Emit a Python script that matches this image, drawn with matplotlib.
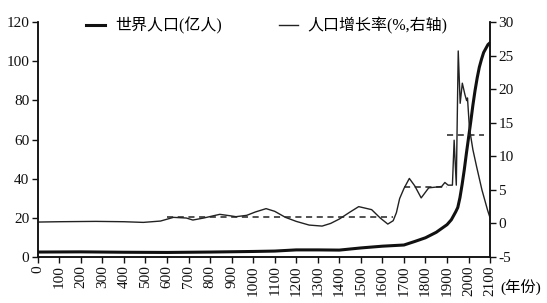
import numpy as np
import matplotlib.pyplot as plt

plt.rcParams['font.family'] = ['Liberation Serif', 'Noto Sans CJK SC']
plt.rcParams['axes.unicode_minus'] = False

# 世界人口 (亿人)
pop_years = [0, 200, 400, 600, 800, 1000, 1100, 1200, 1300, 1400, 1500, 1600, 1700, 1750,
             1800, 1850, 1900, 1920, 1940, 1950, 1960, 1970, 1980, 1990, 2000, 2010, 2020,
             2030, 2040, 2050, 2060, 2070, 2080, 2090, 2100]
pop = [2.5, 2.6, 2.4, 2.3, 2.5, 2.8, 3.0, 3.6, 3.6, 3.5, 4.6, 5.5, 6.1, 7.9,
       9.8, 12.6, 16.5, 19.0, 23.0, 25.3, 30.3, 37.0, 44.5, 53.0, 61.0, 69.0, 77.5,
       85.0, 91.5, 97.0, 101.0, 104.5, 106.5, 108.5, 109.5]

# 人口增长率 (右轴)
rate_years = [0, 100, 270, 400, 490, 570, 630, 690, 720, 770, 845, 890, 920, 970, 1010,
              1060, 1100, 1150, 1200, 1260, 1320, 1360, 1400, 1450, 1490, 1550, 1590, 1625,
              1650, 1665, 1680, 1700, 1725, 1750, 1780, 1815, 1875, 1890, 1905, 1925, 1933,
              1943, 1952, 1961, 1971, 1983, 1991, 1995, 2004, 2020, 2037, 2062, 2088, 2100]
rate = [0.2, 0.25, 0.3, 0.25, 0.15, 0.35, 0.9, 0.8, 0.5, 0.8, 1.35, 1.15, 1.0, 1.2, 1.7,
        2.2, 1.8, 0.9, 0.3, -0.25, -0.4, 0.0, 0.65, 1.7, 2.5, 2.05, 0.8, -0.1,
        0.4, 1.6, 3.7, 5.2, 6.7, 5.6, 3.8, 5.3, 5.5, 6.1, 5.7, 5.7, 12.4,
        5.7, 25.7, 17.9, 20.9, 19.2, 18.3, 18.7, 14.2, 11.0, 8.5, 5.0, 2.0, 0.8]

# 分段平均 (虚线)
avg_start = [600, 1700, 1900]
avg_end = [1650, 1900, 2070]
avg_val = [0.9, 5.4, 13.2]

xticks = np.arange(0, 2101, 100)

fig = plt.figure(figsize=(5.47, 3.03), dpi=100)
ax = fig.add_axes([0.069, 0.152, 0.827, 0.775])
ax2 = ax.twinx()

ax.plot(pop_years, pop, color='#111111', lw=2.2, label='世界人口(亿人)')
ax2.plot(rate_years, rate, color='#222222', lw=1.0, label='人口增长率(%,右轴)')
ax2.hlines(avg_val, avg_start, avg_end, colors='#222222', linestyles=(0, (4, 3)), lw=1.1)

ax.set_xlim(0, 2100)
ax.set_ylim(0, 120)
ax2.set_ylim(-5, 30)
ax.set_yticks(np.arange(0, 121, 20))
ax2.set_yticks(np.arange(-5, 31, 5))
ax.set_xticks(xticks)
ax.set_xticklabels([str(v) for v in xticks], rotation=90)

for a in (ax, ax2):
    a.spines['top'].set_visible(False)
    for s in a.spines.values():
        s.set_linewidth(1.1)
        s.set_color('#111111')
    a.tick_params(labelsize=11, length=4, width=1, colors='#111111', pad=2)

ax.text(1.022, -0.13, '(年份)', transform=ax.transAxes, fontsize=11, va='center', ha='left')

h1, l1 = ax.get_legend_handles_labels()
h2, l2 = ax2.get_legend_handles_labels()
fig.legend(h1 + h2, l1 + l2, ncol=2, frameon=False, fontsize=11.5, handlelength=1.2,
           columnspacing=3.6, handletextpad=0.6, loc='center', bbox_to_anchor=(0.488, 0.915))

fig.savefig('out.png', dpi=100, facecolor='white')
